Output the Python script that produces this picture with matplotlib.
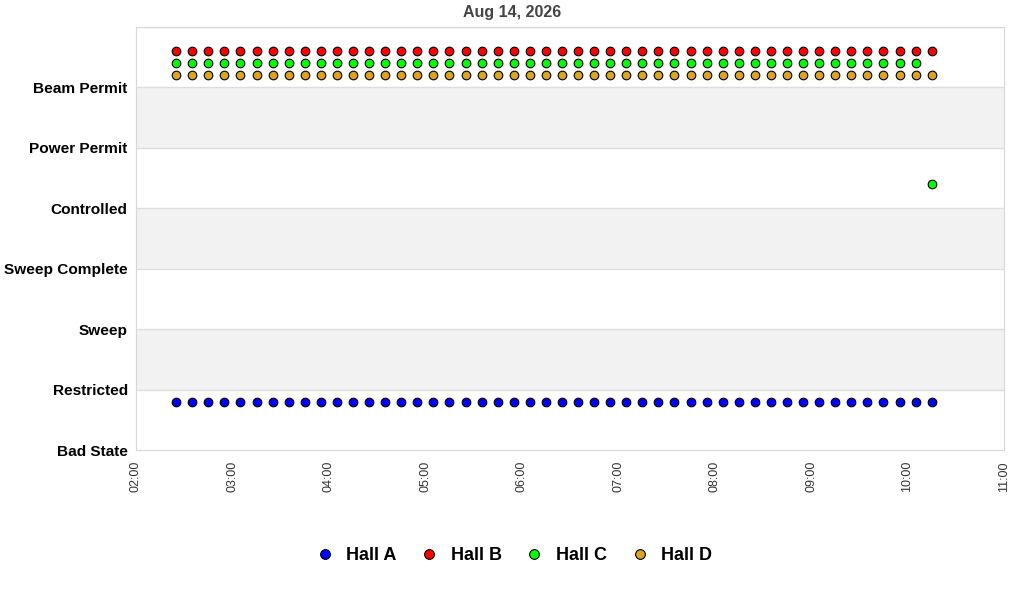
import pandas as pd
import matplotlib
matplotlib.use('Agg')
import matplotlib.pyplot as plt
import matplotlib.dates as mdates
from matplotlib.lines import Line2D

plt.rcParams['font.family'] = ['Liberation Sans', 'DejaVu Sans']

# state names, bottom to top
states = ['Bad State', 'Restricted', 'Sweep', 'Sweep Complete',
          'Controlled', 'Power Permit', 'Beam Permit']

# samples every 10 minutes
times = pd.date_range('2026-08-14 02:25', '2026-08-14 10:15', freq='10min')

halls = ['Hall A', 'Hall B', 'Hall C', 'Hall D']
colors = ['#0000ff', '#ff0000', '#00ff00', '#daa520']
# small offset inside each state band so the halls don't overlap
offsets = [0.8, 0.6, 0.4, 0.2]

hall_a = [0] * 48
hall_b = [6] * 48
hall_c = [6] * 47 + [4]
hall_d = [6] * 48
hall_states = [hall_a, hall_b, hall_c, hall_d]

fig = plt.figure(figsize=(10.24, 6.0), dpi=100)
ax = fig.add_axes([136 / 1024, 0.25, 868 / 1024, 423 / 600])

# alternating background bands
for k in range(len(states)):
    if k % 2 == 1:
        ax.axhspan(k, k + 1, color='#f2f2f2', zorder=0, lw=0)
for k in range(1, len(states) + 1):
    ax.axhline(k, color='#dedede', lw=1, zorder=1)

for name, col, off, vals in zip(halls, colors, offsets, hall_states):
    y = [v + off for v in vals]
    ax.plot(times, y, ls='none', marker='o', ms=6.2, mfc=col, mec='black',
            mew=0.8, zorder=3, label=name)

ax.set_ylim(0, 7)
ax.set_yticks(range(len(states)))
ax.set_yticklabels(states, fontsize=11.1, fontweight='bold')
ax.set_xlim(pd.Timestamp('2026-08-14 02:00'), pd.Timestamp('2026-08-14 11:00'))
ax.xaxis.set_major_locator(mdates.HourLocator())
ax.xaxis.set_major_formatter(mdates.DateFormatter('%H:%M'))
plt.setp(ax.get_xticklabels(), rotation=90, fontsize=9, color='#333333')
ax.tick_params(length=0, pad=6)
ax.tick_params(axis='x', pad=8)
for s in ax.spines.values():
    s.set_color('#d8d8d8')

fig.text(0.5, 1 - 13 / 600, 'Aug 14, 2026', ha='center', va='center',
         fontsize=11.5, fontweight='bold', color='#444444')

handles = [Line2D([], [], ls='none', marker='o', ms=7, mfc=c, mec='black',
                  mew=0.8) for c in colors]
fig.legend(handles, halls, loc='center', bbox_to_anchor=(0.501, 1 - 556 / 600),
           ncol=4, frameon=False, prop={'size': 13, 'weight': 'bold'},
           handletextpad=0.6, columnspacing=1.2, handlelength=1.2)

fig.savefig('out.png', dpi=100)
